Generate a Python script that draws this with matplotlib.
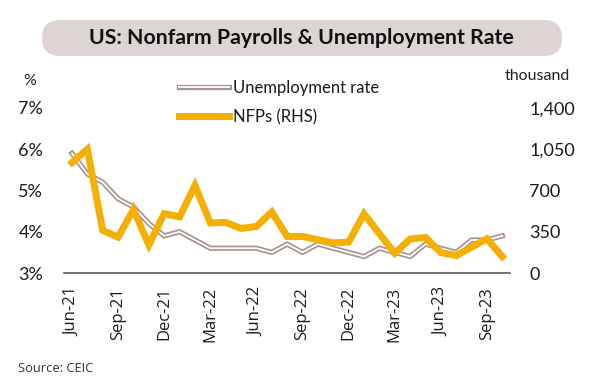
import numpy as np
import matplotlib
matplotlib.use("Agg")
import matplotlib.pyplot as plt
import matplotlib.patheffects as pe
from matplotlib.patches import FancyBboxPatch
from matplotlib.ticker import FuncFormatter

months = ["Jun-21", "Jul-21", "Aug-21", "Sep-21", "Oct-21", "Nov-21", "Dec-21",
          "Jan-22", "Feb-22", "Mar-22", "Apr-22", "May-22", "Jun-22", "Jul-22",
          "Aug-22", "Sep-22", "Oct-22", "Nov-22", "Dec-22", "Jan-23", "Feb-23",
          "Mar-23", "Apr-23", "May-23", "Jun-23", "Jul-23", "Aug-23", "Sep-23", "Oct-23"]
unemployment = [5.9, 5.4, 5.2, 4.8, 4.6, 4.2, 3.9, 4.0, 3.8, 3.6, 3.6, 3.6, 3.6, 3.5,
                3.7, 3.5, 3.7, 3.6, 3.5, 3.4, 3.6, 3.5, 3.4, 3.7, 3.6, 3.5, 3.8, 3.8, 3.9]
nfps = [937, 1050, 361, 305, 538, 239, 504, 476, 743, 424, 430, 378, 395, 518,
        310, 310, 282, 256, 262, 502, 334, 168, 288, 302, 174, 148, 219, 290, 139]
tick_labels = ["Jun-21", "Sep-21", "Dec-21", "Mar-22", "Jun-22", "Sep-22",
               "Dec-22", "Mar-23", "Jun-23", "Sep-23"]
left_ticks = [3, 4, 5, 6, 7]
right_ticks = [0, 350, 700, 1050, 1400]

W, H = 600, 387
fig = plt.figure(figsize=(6, 3.87), dpi=100)

# background overlay in pixel coordinates
bg = fig.add_axes([0, 0, 1, 1])
bg.set_xlim(0, W)
bg.set_ylim(H, 0)
bg.axis("off")
box = FancyBboxPatch((42, 20), 520, 36, boxstyle="round,pad=0,rounding_size=18",
                     facecolor="#DDD5D3", edgecolor="none")
bg.add_patch(box)
bg.text(301, 38.5, "US: Nonfarm Payrolls & Unemployment Rate", ha="center", va="center",
        fontsize=15.3, fontweight="bold", family="Lato", color="#111111")
bg.text(30, 81, "%", ha="center", va="center", fontsize=11.5, family="Lato", color="#222222")
bg.text(537, 76, "thousand", ha="center", va="center", fontsize=11.5, family="Lato", color="#222222")
bg.text(18, 369, "Source: CEIC", ha="left", va="center", fontsize=9.3, family="Open Sans", color="#333333")

x = np.arange(len(months))
ax = fig.add_axes([64 / W, 1 - 273 / H, (510 - 64) / W, (273 - 108) / H])
ax.set_xlim(-0.52, len(months) - 0.5)
ax.set_ylim(3, 7)
ax.patch.set_alpha(0)
l1, = ax.plot(x, unemployment, color="white", lw=1.3, solid_joinstyle="miter",
              label="Unemployment rate",
              path_effects=[pe.Stroke(linewidth=3.8, foreground="#A8958F"), pe.Normal()])
for s in ["top", "right", "left"]:
    ax.spines[s].set_visible(False)
ax.spines["bottom"].set_color("#5a5a5a")
ax.spines["bottom"].set_linewidth(1.2)
ax.set_yticks(left_ticks)
ax.yaxis.set_major_formatter(FuncFormatter(lambda v, p: f"{int(v)}%"))
ax.tick_params(axis="y", length=0, pad=15, labelsize=13, labelcolor="#1a1a1a")
ax.set_xticks([months.index(t) for t in tick_labels])
ax.set_xticklabels(tick_labels, rotation=90, family="Open Sans", fontsize=12, color="#1a1a1a")
ax.tick_params(axis="x", length=0, pad=10)
for t in ax.get_yticklabels():
    t.set_family("Lato")

ax2 = ax.twinx()
ax2.set_ylim(0, 1400)
l2, = ax2.plot(x, nfps, color="#F4AF00", lw=5, solid_joinstyle="miter", label="NFPs (RHS)")
for s in ["top", "right", "left", "bottom"]:
    ax2.spines[s].set_visible(False)
ax2.set_yticks(right_ticks)
ax2.yaxis.set_major_formatter(FuncFormatter(lambda v, p: f"{int(v):,}"))
ax2.tick_params(axis="y", length=0, pad=14, labelsize=13, labelcolor="#1a1a1a")
for t in ax2.get_yticklabels():
    t.set_family("Lato")

leg = ax2.legend(handles=[l1, l2], loc="upper left",
                 bbox_to_anchor=(179 / W, 1 - 80 / H), bbox_transform=fig.transFigure,
                 frameon=False, borderpad=0, borderaxespad=0, handlelength=3.0,
                 handletextpad=0.25, labelspacing=0.78,
                 prop={"family": "Lato", "size": 12})
for t in leg.get_texts():
    t.set_color("#1a1a1a")

fig.savefig("out.png", dpi=100)
